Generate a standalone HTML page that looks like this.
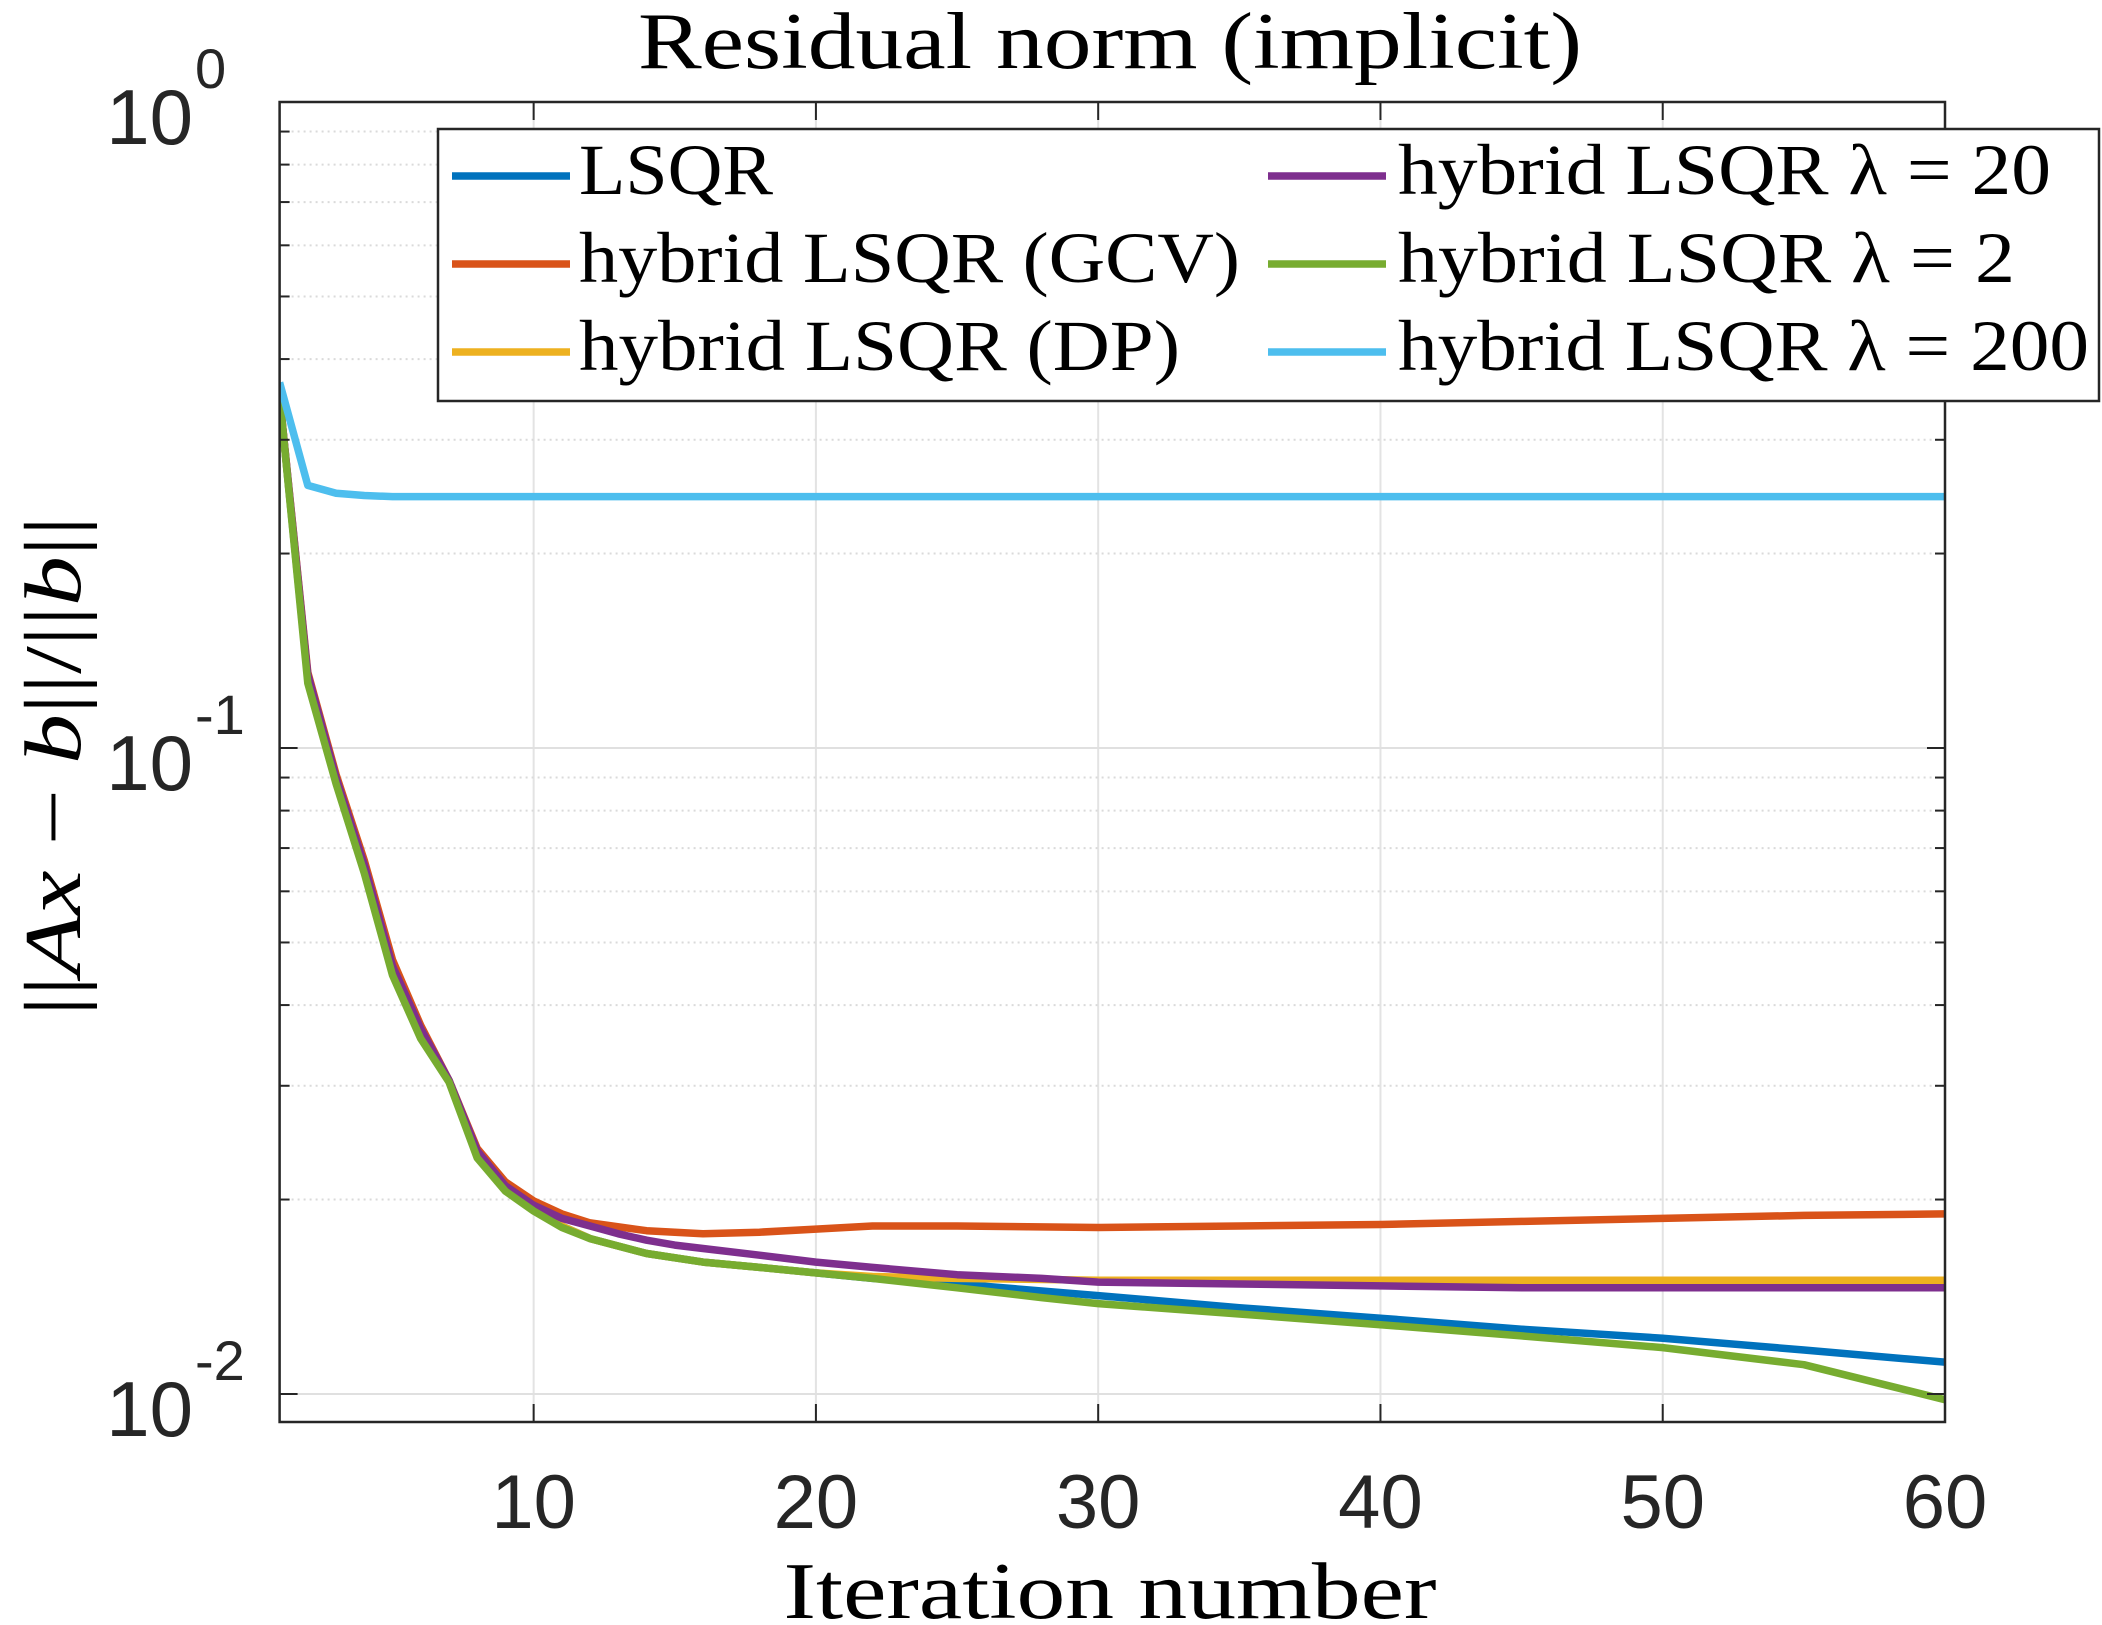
<!DOCTYPE html>
<html><head><meta charset="utf-8"><style>
html,body{margin:0;padding:0;background:#fff;}
svg{display:block;}
</style></head><body>
<svg id="chart" width="2102" height="1625" viewBox="0 0 2102 1625" xmlns="http://www.w3.org/2000/svg">
<rect x="0" y="0" width="2102" height="1625" fill="#fff"/>
<g id="grid"></g>
<g id="series"></g>
<g id="axes"></g>
<text x="1110" y="68" font-family="Liberation Serif, serif" font-size="80" text-anchor="middle" textLength="944" lengthAdjust="spacingAndGlyphs" fill="#000">Residual norm (implicit)</text>
<text x="1110" y="1618" font-family="Liberation Serif, serif" font-size="80" text-anchor="middle" textLength="653" lengthAdjust="spacingAndGlyphs" fill="#000">Iteration number</text>
<text transform="translate(80,766) rotate(-90)" font-family="Liberation Serif, serif" font-size="80" text-anchor="middle" textLength="500" lengthAdjust="spacingAndGlyphs" fill="#000">||<tspan font-style="italic">Ax</tspan> − <tspan font-style="italic">b</tspan>||/||<tspan font-style="italic">b</tspan>||</text>
<g id="legend"></g>
</svg>
<script>
const xTicks = [10, 20, 30, 40, 50, 60];
const yDecades = [0, -1, -2];
const seriesNames = ['LSQR', 'hybrid LSQR (GCV)', 'hybrid LSQR (DP)', 'hybrid LSQR λ = 20', 'hybrid LSQR λ = 2', 'hybrid LSQR λ = 200'];
const xLSQR = [1,2,3,4,5,6,7,8,9,10,11,12,14,16,18,20,22,25,30,35,40,45,50,55,60];
const yLSQR = [0.35,0.128,0.089,0.065,0.045,0.036,0.0306,0.0233,0.0208,0.0193,0.0182,0.0174,0.0165,0.016,0.0157,0.0154,0.0151,0.0148,0.0142,0.0136,0.0131,0.0126,0.0122,0.0117,0.0112];
const xGCV = [1,2,3,4,5,6,7,8,9,10,11,12,14,16,18,20,22,25,30,35,40,45,50,55,60];
const yGCV = [0.35,0.131,0.091,0.067,0.047,0.0372,0.0306,0.024,0.0213,0.0199,0.019,0.0184,0.0179,0.0177,0.0178,0.018,0.0182,0.0182,0.0181,0.0182,0.0183,0.0185,0.0187,0.0189,0.019];
const xDP = [1,2,3,4,5,6,7,8,9,10,11,12,14,16,18,20,22,25,30,40,50,60];
const yDP = [0.35,0.128,0.089,0.065,0.045,0.036,0.0306,0.0233,0.0208,0.0193,0.0182,0.0174,0.0165,0.016,0.0157,0.0154,0.0152,0.0151,0.015,0.015,0.015,0.015];
const xL20 = [1,2,3,4,5,6,7,8,9,10,11,12,13,14,15,16,18,20,22,25,28,30,35,40,45,50,55,60];
const yL20 = [0.35,0.13,0.09,0.066,0.046,0.0368,0.0306,0.0238,0.021,0.0196,0.0187,0.0182,0.0177,0.0173,0.017,0.0168,0.0164,0.016,0.0157,0.0153,0.0151,0.0149,0.0148,0.0147,0.0146,0.0146,0.0146,0.0146];
const xL2 = [1,2,3,4,5,6,7,8,9,10,11,12,14,16,18,20,22,25,28,30,35,40,45,50,55,60];
const yL2 = [0.35,0.126,0.088,0.064,0.0445,0.0355,0.0304,0.0232,0.0206,0.0192,0.0181,0.0174,0.0165,0.016,0.0157,0.0154,0.0151,0.0146,0.0141,0.0138,0.0133,0.0128,0.0123,0.0118,0.0111,0.0098];
const xL200 = [1,2,3,4,5,10,20,30,40,50,60];
const yL200 = [0.368,0.255,0.248,0.246,0.245,0.245,0.245,0.245,0.245,0.245,0.245];

const L = 279.6, R = 1945, T = 102, B = 1422;
const X0 = 1, X1 = 60;
const DEC = 646, YDEC0 = 748;
function sx(v){ return L + (v - X0) / (X1 - X0) * (R - L); }
function sy(v){ return YDEC0 - (Math.log10(v) + 1) * DEC; }
const NS = 'http://www.w3.org/2000/svg';
function mk(tag, attrs, parent){ const e = document.createElementNS(NS, tag); for (const k in attrs) e.setAttribute(k, attrs[k]); parent.appendChild(e); return e; }

const grid = document.getElementById('grid');
const axes = document.getElementById('axes');
for (const t of xTicks){
  const g = mk('line', {x1: sx(t), x2: sx(t), y1: T, y2: B, stroke: '#e3e3e3', 'stroke-width': 2}, grid);
  
  
}
for (const d of [-1, -2, -3]){
  for (let m = 1; m <= 9; m++){
    const v = m * Math.pow(10, d);
    const y = sy(v);
    if (y < T - 0.5 || y > B + 0.5) continue;
    const major = (m === 1);
    const g = mk('line', {x1: L, x2: R, y1: y, y2: y, stroke: major ? '#e0e0e0' : '#dadada', 'stroke-width': 2, 'stroke-dasharray': major ? '' : '2 4'}, grid);
    
    
    const len = major ? 18 : 10;
    const t1 = mk('line', {x1: L, x2: L + len, y1: y, y2: y, stroke: '#262626', 'stroke-width': 2}, axes);
    
    
    const t2 = mk('line', {x1: R, x2: R - len, y1: y, y2: y, stroke: '#262626', 'stroke-width': 2}, axes);
    
    
  }
}
const colors = ['#0072BD', '#D95319', '#EDB120', '#7E2F8E', '#77AC30', '#4DBEEE'];
const xs = [xLSQR, xGCV, xDP, xL20, xL2, xL200];
const ys = [yLSQR, yGCV, yDP, yL20, yL2, yL200];
const sNames = ['line-lsqr', 'line-gcv', 'line-dp', 'line-lambda-20', 'line-lambda-2', 'line-lambda-200'];
const sg = document.getElementById('series');
const clip = mk('clipPath', {id: 'clipPlot'}, sg);
mk('rect', {x: L, y: T, width: R - L, height: B - T}, clip);
for (let i = 0; i < xs.length; i++){
  const pts = xs[i].map((x, j) => sx(x).toFixed(1) + ',' + sy(ys[i][j]).toFixed(1)).join(' ');
  const p = mk('polyline', {points: pts, fill: 'none', stroke: colors[i], 'stroke-width': 7.5, 'stroke-linejoin': 'round', 'clip-path': 'url(#clipPlot)'}, sg);
  
  
}
const box = mk('rect', {x: L, y: T, width: R - L, height: B - T, fill: 'none', stroke: '#262626', 'stroke-width': 2.5}, axes);


for (const t of xTicks){
  const a = mk('line', {x1: sx(t), x2: sx(t), y1: B, y2: B - 18, stroke: '#262626', 'stroke-width': 2}, axes);
  
  
  const b = mk('line', {x1: sx(t), x2: sx(t), y1: T, y2: T + 18, stroke: '#262626', 'stroke-width': 2}, axes);
  
  
  const tx = mk('text', {x: sx(t), y: 1528, 'font-family': 'Liberation Sans, sans-serif', 'font-size': 76, 'text-anchor': 'middle', fill: '#262626'}, axes);
  tx.textContent = String(t);
  
  
}
for (const d of yDecades){
  const y = sy(Math.pow(10, d));
  const tx = mk('text', {x: 193, y: y + 42, 'font-family': 'Liberation Sans, sans-serif', 'font-size': 78, 'text-anchor': 'end', fill: '#262626'}, axes);
  tx.textContent = '10';
  
  
  const sup = mk('text', {x: 195, y: y - 14, 'font-family': 'Liberation Sans, sans-serif', 'font-size': 56, 'text-anchor': 'start', fill: '#262626'}, axes);
  sup.textContent = String(d);
  
  
}
const lg = document.getElementById('legend');
const lb = mk('rect', {x: 438, y: 129, width: 1661, height: 272, fill: '#fff', stroke: '#262626', 'stroke-width': 2.5}, lg);


const rowsY = [176, 264, 352];
const colLine = [[452, 570, 579], [1268, 1386, 1398]];
const textW = [194, 661, 601, 653, 617, 691];
for (let i = 0; i < 6; i++){
  const c = i < 3 ? 0 : 1, r = i % 3;
  const y = rowsY[r];
  const ln = mk('line', {x1: colLine[c][0], x2: colLine[c][1], y1: y, y2: y, stroke: colors[i], 'stroke-width': 7.5}, lg);
  
  
  const tx = mk('text', {x: colLine[c][2], y: y + 18, 'font-family': 'Liberation Serif, serif', 'font-size': 72, fill: '#000', textLength: textW[i], lengthAdjust: 'spacingAndGlyphs'}, lg);
  tx.textContent = seriesNames[i];
  
  
}
</script>
</body></html>
